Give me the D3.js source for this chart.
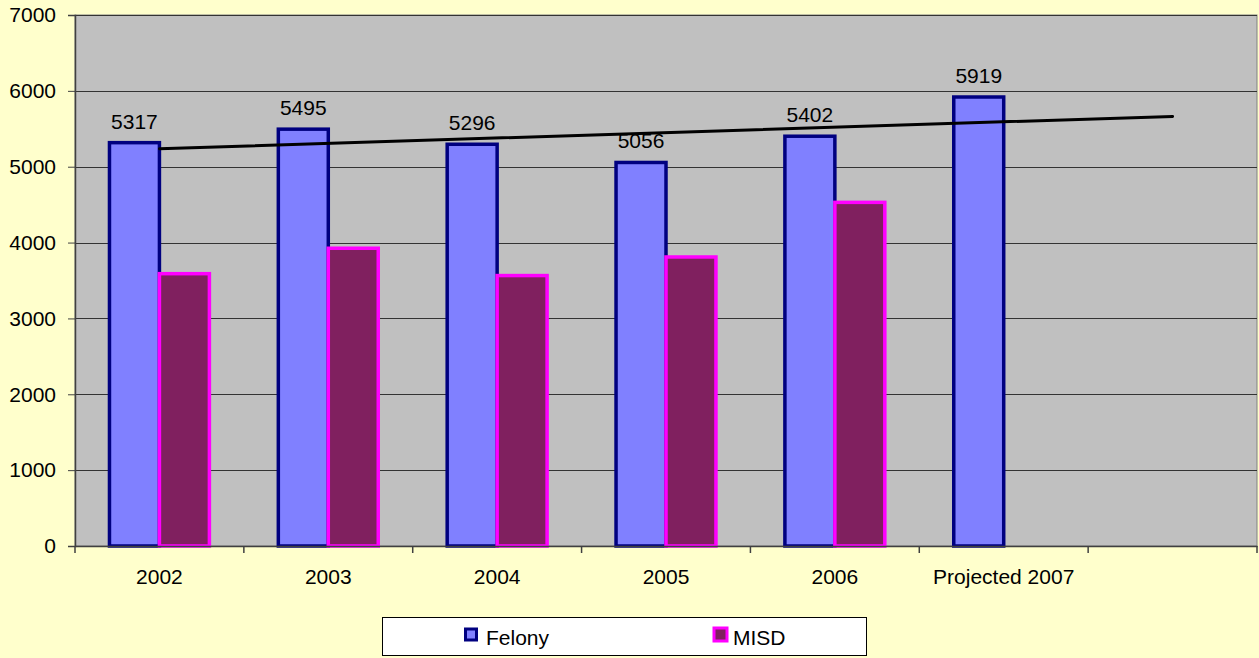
<!DOCTYPE html>
<html>
<head>
<meta charset="utf-8">
<script src="https://cdn.jsdelivr.net/npm/d3@7"></script>
<style>
  html, body { margin: 0; padding: 0; background: #FFFFCC; }
  svg { display: block; }
  text { font-family: "Liberation Sans", Arial, sans-serif; fill: #000; }
</style>
</head>
<body>
<svg id="chart" width="1259" height="658"></svg>
<script>
const categories = ["2002", "2003", "2004", "2005", "2006", "Projected 2007", ""];
const felony = [5317, 5495, 5296, 5056, 5402, 5919];
const misd = [3590, 3925, 3565, 3810, 4530];
const seriesNames = ["Felony", "MISD"];
const yTicks = [0, 1000, 2000, 3000, 4000, 5000, 6000, 7000];

const W = 1259, H = 658;
const FS = 21;
const plot = { left: 75, right: 1257, top: 15, bottom: 546 };
const svg = d3.select("#chart");

svg.append("rect").attr("x", 0).attr("y", 0).attr("width", W).attr("height", H).attr("fill", "#FFFFCC");

const x = d3.scaleBand().domain(categories).range([plot.left, plot.right]).paddingInner(0).paddingOuter(0);
const xs = d3.scaleBand().domain(seriesNames).range([0, x.bandwidth()]).paddingInner(0).paddingOuter(0.69);
const y = d3.scaleLinear().domain([0, 7000]).range([plot.bottom, plot.top]);

// plot area
svg.append("rect")
  .attr("x", plot.left).attr("y", plot.top)
  .attr("width", plot.right - plot.left).attr("height", plot.bottom - plot.top)
  .attr("fill", "#C0C0C0").attr("stroke", "#808080").attr("stroke-width", 1);

// gridlines
svg.append("g").selectAll("line").data(yTicks.filter(d => d > 0)).join("line")
  .attr("x1", plot.left).attr("x2", plot.right)
  .attr("y1", d => Math.round(y(d)) + 0.5).attr("y2", d => Math.round(y(d)) + 0.5)
  .attr("stroke", "#333333").attr("stroke-width", 1.2);

// Felony bars
svg.append("g").selectAll("rect").data(felony).join("rect")
  .attr("x", (d, i) => x(categories[i]) + xs("Felony"))
  .attr("y", d => y(d))
  .attr("width", xs.bandwidth())
  .attr("height", d => y(0) - y(d))
  .attr("fill", "#8080FF").attr("stroke", "#000080").attr("stroke-width", 3.5);

// MISD bars
svg.append("g").selectAll("rect").data(misd).join("rect")
  .attr("x", (d, i) => x(categories[i]) + xs("MISD"))
  .attr("y", d => y(d))
  .attr("width", xs.bandwidth())
  .attr("height", d => y(0) - y(d))
  .attr("fill", "#80205F").attr("stroke", "#FF00FF").attr("stroke-width", 3.5);

// Linear trendline of Felony, forecast forward one period
const n = felony.length;
const xsIdx = felony.map((d, i) => i + 1);
const mx = d3.mean(xsIdx), my = d3.mean(felony);
const slope = d3.sum(felony.map((d, i) => (xsIdx[i] - mx) * (d - my))) / d3.sum(xsIdx.map(v => (v - mx) ** 2));
const intercept = my - slope * mx;
const trendPts = [1, n + 1].map(k => [x(categories[k - 1]) + x.bandwidth() / 2, y(intercept + slope * k)]);
svg.append("path")
  .attr("d", d3.line()(trendPts))
  .attr("stroke", "#000").attr("stroke-width", 3).attr("fill", "none").attr("stroke-linecap", "round");

// data labels
svg.append("g").selectAll("text").data(felony).join("text")
  .attr("x", (d, i) => x(categories[i]) + xs("Felony") + xs.bandwidth() / 2)
  .attr("y", d => y(d) - 14)
  .attr("text-anchor", "middle")
  .attr("font-size", FS)
  .text(d => d);

// Y axis
const yAxis = svg.append("g").attr("transform", `translate(${plot.left},0)`)
  .call(d3.axisLeft(y).tickValues(yTicks).tickSize(7).tickPadding(12).tickFormat(d3.format("d")));
yAxis.select(".domain").attr("stroke", "#404040").attr("stroke-width", 1.5);
yAxis.selectAll(".tick line").attr("stroke", "#404040");
yAxis.selectAll(".tick text").attr("font-size", FS).attr("font-family", "Liberation Sans, Arial, sans-serif").attr("fill", "#000");

// X axis
const xAxis = svg.append("g").attr("transform", `translate(0,${plot.bottom})`)
  .call(d3.axisBottom(x).tickSize(0).tickPadding(23));
xAxis.select(".domain").attr("stroke", "#404040").attr("stroke-width", 1.5);
xAxis.selectAll(".tick text").attr("font-size", FS).attr("font-family", "Liberation Sans, Arial, sans-serif").attr("fill", "#000");
// category boundary ticks
const bounds = categories.map(c => x(c)).concat([plot.right]);
svg.append("g").selectAll("line").data(bounds).join("line")
  .attr("x1", d => d).attr("x2", d => d)
  .attr("y1", plot.bottom).attr("y2", plot.bottom + 7)
  .attr("stroke", "#404040").attr("stroke-width", 1.5);

// Legend
const lg = svg.append("g");
lg.append("rect").attr("x", 382.5).attr("y", 617.5).attr("width", 484).attr("height", 38)
  .attr("fill", "#FFFFFF").attr("stroke", "#000").attr("stroke-width", 1);
const legendItems = [
  { name: "Felony", fill: "#8080FF", stroke: "#000080", sx: 465.5, sz: 11, tx: 486 },
  { name: "MISD", fill: "#80205F", stroke: "#FF00FF", sx: 714, sz: 13, tx: 733 }
];
legendItems.forEach(it => {
  lg.append("rect").attr("x", it.sx).attr("y", 634.5 - it.sz / 2).attr("width", it.sz).attr("height", it.sz)
    .attr("fill", it.fill).attr("stroke", it.stroke).attr("stroke-width", 3);
  lg.append("text").attr("x", it.tx).attr("y", 645).attr("font-size", FS).text(it.name);
});
</script>
</body>
</html>
